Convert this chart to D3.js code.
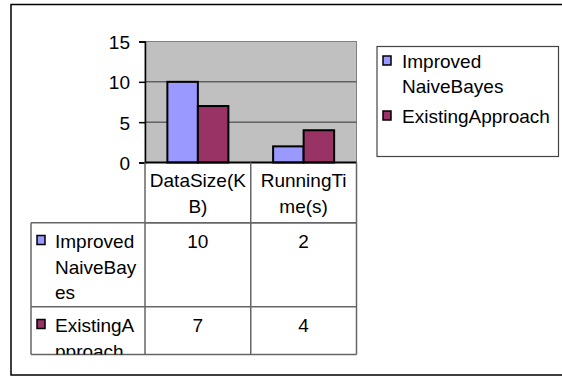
<!DOCTYPE html>
<html><head><meta charset="utf-8">
<script src="https://cdn.jsdelivr.net/npm/d3@7"></script>
<style>html,body{margin:0;padding:0;background:#fff;}svg{display:block;font-family:"Liberation Sans",Arial,sans-serif;}</style>
</head><body>
<script>
const categories = ["DataSize(KB)", "RunningTime(s)"];
const seriesNames = ["Improved NaiveBayes", "ExistingApproach"];
const improvedValues = [10, 2];
const existingValues = [7, 4];
const yTicks = [0, 5, 10, 15];
const seriesColors = ["#9999FF", "#993366"];
const seriesValues = [improvedValues, existingValues];

const W = 562, H = 376, FS = 19;
const svg = d3.select("body").append("svg").attr("width", W).attr("height", H);

// outer border (right edge lies just outside the picture)
svg.append("rect").attr("x", 11).attr("y", 4.5).attr("width", 553).attr("height", 370.5)
  .attr("fill", "#fff").attr("stroke", "#000").attr("stroke-width", 1.5);

const plot = {l: 145, r: 356.5, t: 41.5, b: 162.5};
const y = d3.scaleLinear().domain([0, 15]).range([plot.b, plot.t]);
const x0 = d3.scaleBand().domain(categories).range([plot.l, plot.r]);
const x1 = d3.scaleBand().domain(seriesNames).range([0, x0.bandwidth()]).paddingInner(0).paddingOuter(0.733);

// plot bg
svg.append("rect").attr("x", plot.l).attr("y", plot.t).attr("width", plot.r - plot.l).attr("height", plot.b - plot.t)
  .attr("fill", "#C0C0C0").attr("stroke", "#808080").attr("stroke-width", 1);

// gridlines
svg.append("g").selectAll("line").data(yTicks.filter(d => d > 0 && d < 15)).join("line")
  .attr("x1", plot.l).attr("x2", plot.r).attr("y1", d => y(d)).attr("y2", d => y(d))
  .attr("stroke", "#333").attr("stroke-width", 1);

// y axis
const yAxis = d3.axisLeft(y).tickValues(yTicks).tickSize(6).tickPadding(9);
const yg = svg.append("g").attr("transform", `translate(${plot.l},0)`).call(yAxis);
yg.select(".domain").attr("stroke", "#000").attr("stroke-width", 1.5);
yg.selectAll(".tick line").attr("stroke", "#000").attr("stroke-width", 1.5);
yg.selectAll(".tick text").attr("font-size", FS).attr("fill", "#000")
  .attr("font-family", '"Liberation Sans",Arial,sans-serif').attr("dy", "0.36em");

// bars
const groups = svg.append("g").selectAll("g").data(categories).join("g")
  .attr("transform", d => `translate(${x0(d)},0)`);
groups.selectAll("rect").data((c, ci) => seriesNames.map((s, si) => ({s, si, v: seriesValues[si][ci]}))).join("rect")
  .attr("x", d => x1(d.s)).attr("width", x1.bandwidth())
  .attr("y", d => y(d.v)).attr("height", d => y(0) - y(d.v))
  .attr("fill", d => seriesColors[d.si]).attr("stroke", "#000").attr("stroke-width", 2);

// x axis line
svg.append("line").attr("x1", plot.l).attr("x2", plot.r).attr("y1", y(0)).attr("y2", y(0))
  .attr("stroke", "#000").attr("stroke-width", 2);

// wrapping helper
const measurer = svg.append("text").attr("font-size", FS).attr("visibility", "hidden");
function tw(s) { measurer.text(s); return measurer.node().getComputedTextLength(); }
function wrap(text, maxW) {
  const words = text.split(" ");
  const lines = [];
  let cur = "";
  for (const w of words) {
    const cand = cur ? cur + " " + w : w;
    if (tw(cand) <= maxW) { cur = cand; continue; }
    if (cur) { lines.push(cur); cur = ""; }
    let piece = "";
    for (const ch of w) {
      if (tw(piece + ch) <= maxW) piece += ch;
      else { lines.push(piece); piece = ch; }
    }
    cur = piece;
  }
  if (cur) lines.push(cur);
  return lines;
}

// table
const tbl = {l: 31, top: plot.b, hdrB: 222.7, rowB: [306.7, 354.5]};
const lineColor = "#666";
const tg = svg.append("g");
svg.append("clipPath").attr("id", "tclip").append("rect")
  .attr("x", tbl.l).attr("y", tbl.top).attr("width", plot.r - tbl.l).attr("height", tbl.rowB[1] - tbl.top);
const tt = svg.append("g").attr("clip-path", "url(#tclip)");

// header text
categories.forEach(c => {
  const lines = wrap(c, 99);
  const cx = x0(c) + x0.bandwidth() / 2;
  lines.forEach((ln, i) => {
    tt.append("text").attr("x", cx).attr("y", 186.7 + i * 26).attr("text-anchor", "middle")
      .attr("font-size", FS).attr("fill", "#000").text(ln);
  });
});
// rows
const rowTop = [tbl.hdrB, tbl.rowB[0]];
seriesNames.forEach((s, si) => {
  const t0 = rowTop[si];
  tt.append("rect").attr("x", 37).attr("y", t0 + 12.8).attr("width", 8).attr("height", 9)
    .attr("fill", seriesColors[si]).attr("stroke", "#000").attr("stroke-width", 1.5);
  wrap(s, 88).forEach((ln, i) => {
    tt.append("text").attr("x", 55).attr("y", t0 + 25.6 + i * 25.5)
      .attr("font-size", FS).attr("fill", "#000").text(ln);
  });
  categories.forEach((c, ci) => {
    tt.append("text").attr("x", x0(c) + x0.bandwidth() / 2).attr("y", t0 + 25.6).attr("text-anchor", "middle")
      .attr("font-size", FS).attr("fill", "#000").text(seriesValues[si][ci]);
  });
});
// table lines
const hl = [[plot.l, plot.r, tbl.hdrB], [tbl.l, plot.r, tbl.hdrB], [tbl.l, plot.r, tbl.rowB[0]], [tbl.l, plot.r, tbl.rowB[1]]];
hl.forEach(([a, b, yy]) => tg.append("line").attr("x1", a).attr("x2", b).attr("y1", yy).attr("y2", yy)
  .attr("stroke", lineColor).attr("stroke-width", 1.5));
const vl = [[tbl.l, tbl.hdrB, tbl.rowB[1]], [plot.l, tbl.top, tbl.rowB[1]], [x0(categories[1]), tbl.top, tbl.rowB[1]], [plot.r, tbl.top, tbl.rowB[1]]];
vl.forEach(([xx, a, b]) => tg.append("line").attr("x1", xx).attr("x2", xx).attr("y1", a).attr("y2", b)
  .attr("stroke", lineColor).attr("stroke-width", 1.5));

// legend
const lg = svg.append("g");
lg.append("rect").attr("x", 377).attr("y", 46.5).attr("width", 181.5).attr("height", 110)
  .attr("fill", "#fff").attr("stroke", "#444").attr("stroke-width", 1.2);
let ly = 68.3;
seriesNames.forEach((s, si) => {
  lg.append("rect").attr("x", 383).attr("y", ly - 12.3).attr("width", 8).attr("height", 9)
    .attr("fill", seriesColors[si]).attr("stroke", "#000").attr("stroke-width", 1.5);
  const lines = wrap(s, 152);
  lines.forEach((ln, i) => {
    lg.append("text").attr("x", 402).attr("y", ly + i * 25).attr("font-size", FS).attr("fill", "#000").text(ln);
  });
  ly += (lines.length - 1) * 25 + 30;
});
measurer.remove();
</script>
</body></html>
